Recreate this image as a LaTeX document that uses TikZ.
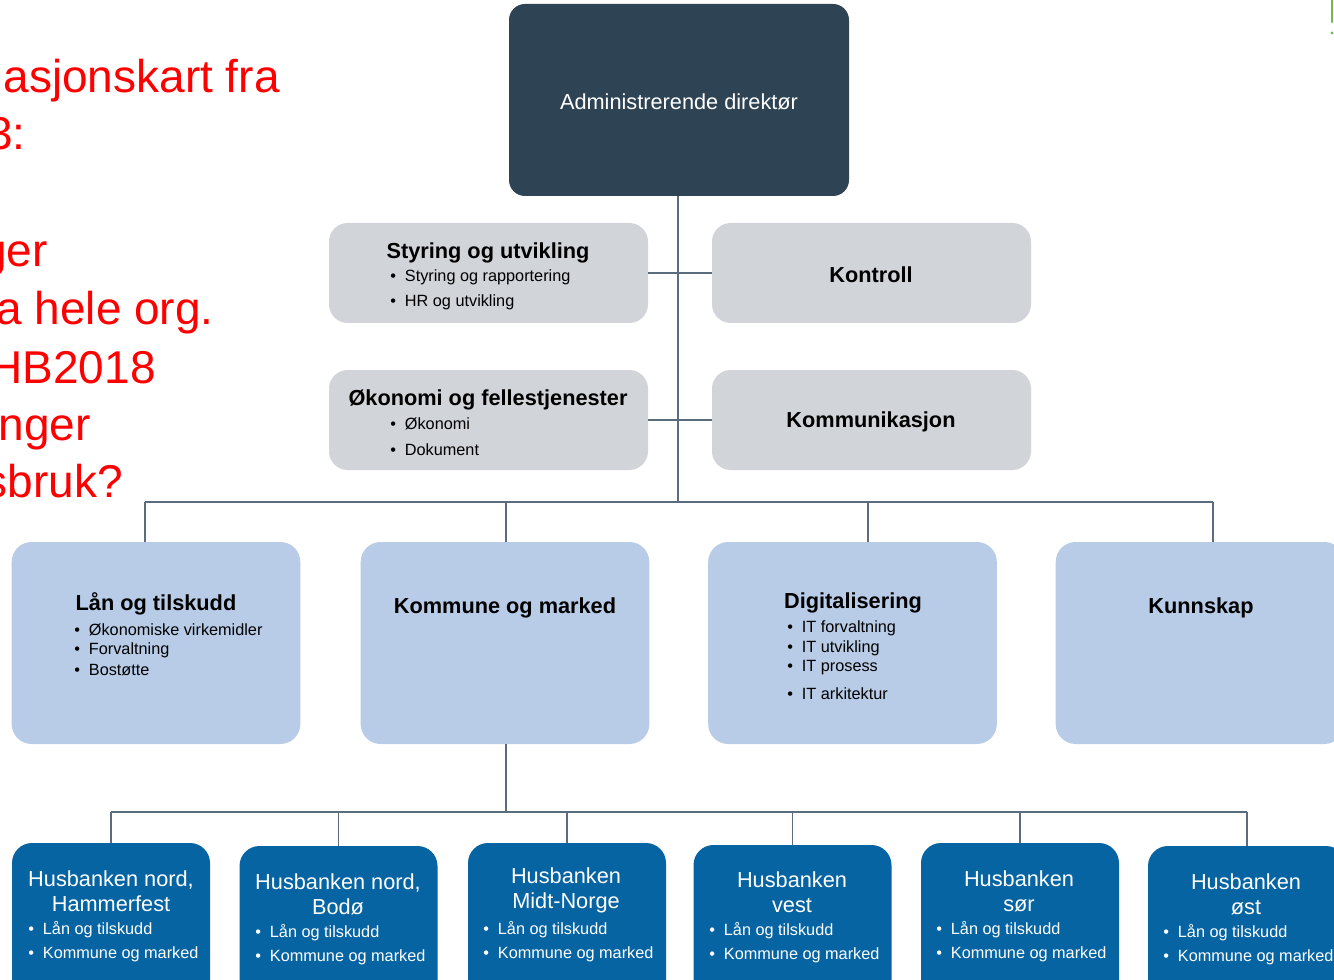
\documentclass[tikz,border=0pt]{standalone}
\usepackage{fontspec}
\setmainfont{Liberation Sans}
\definecolor{dirc}{HTML}{2E4454}
\definecolor{grayc}{HTML}{D1D4D8}
\definecolor{lblue}{HTML}{B8CCE8}
\definecolor{dblue}{HTML}{0664A2}
\definecolor{linec}{HTML}{5A6C7E}
\definecolor{redc}{HTML}{FF0000}
\definecolor{greenc}{HTML}{6CC04A}
\newcommand{\bul}{\makebox[11pt][l]{\textbullet}}
\begin{document}
\begin{tikzpicture}[x=0.75pt,y=-0.75pt,
  conn/.style={draw=linec, line width=1.1pt},
  dirbox/.style={rectangle, rounded corners=12pt, fill=dirc, inner sep=0pt},
  graybox/.style={rectangle, rounded corners=14pt, fill=grayc, inner sep=0pt, minimum width=239.25pt, minimum height=75pt},
  lbbox/.style={rectangle, rounded corners=15pt, fill=lblue, inner sep=0pt, minimum width=216.5pt, minimum height=151.5pt},
  dbbox/.style={rectangle, rounded corners=15pt, fill=dblue, inner sep=0pt, minimum width=148.5pt, minimum height=120pt},
  tb/.style={inner sep=0pt, yshift=-1.5pt, font=\fontsize{16.3}{19}\selectfont\bfseries},
  tn/.style={inner sep=0pt, yshift=-1pt, font=\fontsize{16.3}{18.75}\selectfont},
  itm/.style={inner sep=0pt, yshift=-1.5pt, anchor=west, font=\fontsize{12.2}{14}\selectfont},
  bitm/.style={inner sep=0pt, yshift=-1.5pt, anchor=west, align=left, text=white, font=\fontsize{12.2}{18}\selectfont},
  redt/.style={inner sep=0pt, anchor=base east, text=redc, font=\fontsize{34.5}{40}\selectfont}]
\useasboundingbox (0,0) rectangle (1334,980);
\clip (0,0) rectangle (1334,980);
\fill[white] (0,0) rectangle (1334,980);

% red side text
\node[redt] (r1) at (280,93) {asjonskart fra};
\node[redt] (r2) at (26,150) {3:};
\node[redt] (r3) at (48,267) {ger};
\node[redt] (r4) at (214,325) {a hele org.};
\node[redt] (r5) at (156,383) {HB2018};
\node[redt] (r6) at (91,440) {nger};
\node[redt] (r7) at (123,497) {sbruk?};

% green mark at top right
\draw[greenc, line width=1.6pt, line cap=round] (1332,0) -- (1332,22);
\fill[greenc] (1332,33) circle (1.2pt);

% boxes
\node[dirbox, minimum width=255pt, minimum height=144pt] (dir) at (679,100) {};
\node[graybox] (sty) at (488.5,273) {};
\node[graybox] (kon) at (871.5,273) {};
\node[graybox] (oko) at (488.5,420) {};
\node[graybox] (kom) at (871.5,420) {};
\node[lbbox] (lan) at (156,643) {};
\node[lbbox] (kmm) at (505,643) {};
\node[lbbox] (dig) at (852.5,643) {};
\node[lbbox] (kun) at (1200,643) {};
\node[dbbox] (b1) at (111,923) {};
\node[dbbox] (b2) at (338.5,926) {};
\node[dbbox] (b3) at (567,923) {};
\node[dbbox] (b4) at (792.5,925) {};
\node[dbbox] (b5) at (1020,923) {};
\node[dbbox] (b6) at (1247,926) {};

% connectors, first tree
\coordinate (j1) at (678,502);
\draw[conn] ([xshift=-0.75pt]dir.south) -- ([xshift=-0.75pt]dir.south |- j1);
\draw[conn] (sty.east) -- (kon.west);
\draw[conn] (oko.east) -- (kom.west);
\draw[conn] ([xshift=-8.25pt]lan.north |- j1) -- ([xshift=9.75pt]kun.north |- j1);
\draw[conn] ([xshift=-8.25pt]lan.north) -- ([xshift=-8.25pt]lan.north |- j1);
\draw[conn] ([xshift=0.75pt]kmm.north) -- ([xshift=0.75pt]kmm.north |- j1);
\draw[conn] ([xshift=11.6pt]dig.north) -- ([xshift=11.6pt]dig.north |- j1);
\draw[conn] ([xshift=9.75pt]kun.north) -- ([xshift=9.75pt]kun.north |- j1);

% second tree
\coordinate (j2) at (506,812);
\draw[conn] ([xshift=0.75pt]kmm.south) -- ([xshift=0.75pt]kmm.south |- j2);
\draw[conn] (b1.north |- j2) -- (b6.north |- j2);
\foreach \b in {b1,b2,b3,b4,b5,b6}{
  \draw[conn] (\b.north) -- (\b.north |- j2);
}

% texts: director and staff
\node[tn, text=white] (t-dir) at (679,100) {Administrerende direktør};
\node[tb] (t-sty) at (488,251) {Styring og utvikling};
\node[itm] (i-sty1) at (390,275) {\bul Styring og rapportering};
\node[itm] (i-sty2) at (390,300) {\bul HR og utvikling};
\node[tb] (t-kon) at (871,273) {Kontroll};
\node[tb] (t-oko) at (488,398) {Økonomi og fellestjenester};
\node[itm] (i-oko1) at (390,422) {\bul Økonomi};
\node[itm] (i-oko2) at (390,448) {\bul Dokument};
\node[tb] (t-kom) at (871,420) {Kommunikasjon};

% texts: second level
\node[tb] (t-lan) at (156,602) {Lån og tilskudd};
\node[itm] (i-lan1) at (74,628) {\bul Økonomiske virkemidler};
\node[itm] (i-lan2) at (74,648) {\bul Forvaltning};
\node[itm] (i-lan3) at (74,668) {\bul Bostøtte};
\node[tb] (t-kmm) at (505,606) {Kommune og marked};
\node[tb] (t-dig) at (853,601) {Digitalisering};
\node[itm] (i-dig1) at (787,626) {\bul IT forvaltning};
\node[itm] (i-dig2) at (787,646) {\bul IT utvikling};
\node[itm] (i-dig3) at (787,666) {\bul IT prosess};
\node[itm] (i-dig4) at (787,692) {\bul IT arkitektur};
\node[tb] (t-kun) at (1201,606) {Kunnskap};

% texts: regional offices
\node[tn, text=white, align=center] (t-b1) at (111,889.5) {Husbanken nord,\\Hammerfest};
\node[bitm] (i-b1) at (28,940) {\bul Lån og tilskudd\\\bul Kommune og marked};
\node[tn, text=white, align=center] (t-b2) at (338,892.5) {Husbanken nord,\\Bodø};
\node[bitm] (i-b2) at (255,942.5) {\bul Lån og tilskudd\\\bul Kommune og marked};
\node[tn, text=white, align=center] (t-b3) at (566,889.5) {Husbanken\\Midt-Norge};
\node[bitm] (i-b3) at (483,940) {\bul Lån og tilskudd\\\bul Kommune og marked};
\node[tn, text=white, align=center] (t-b4) at (792,891) {Husbanken\\vest};
\node[bitm] (i-b4) at (709,941) {\bul Lån og tilskudd\\\bul Kommune og marked};
\node[tn, text=white, align=center] (t-b5) at (1019,889.5) {Husbanken\\sør};
\node[bitm] (i-b5) at (936,940) {\bul Lån og tilskudd\\\bul Kommune og marked};
\node[tn, text=white, align=center] (t-b6) at (1246,892.5) {Husbanken\\øst};
\node[bitm] (i-b6) at (1163,942.5) {\bul Lån og tilskudd\\\bul Kommune og marked};
\end{tikzpicture}
\end{document}
